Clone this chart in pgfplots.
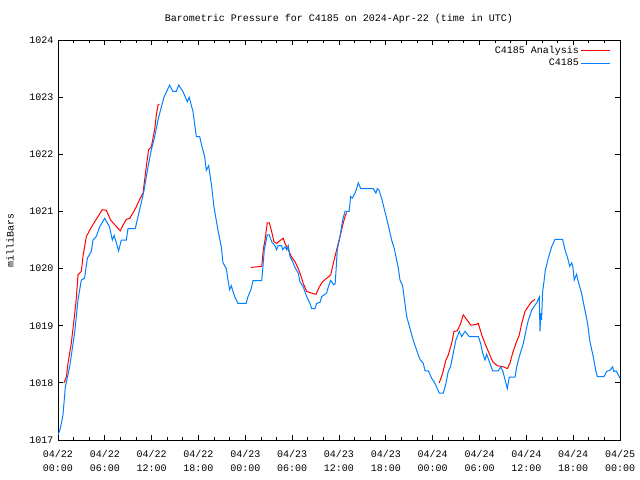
\documentclass[border=0pt]{standalone}
\usepackage{pgfplots}
\pgfplotsset{compat=1.18}
\usepackage{pgfplotstable}
\usepackage{fontspec}
\setmainfont{Liberation Mono}
\definecolor{anared}{RGB}{255,0,0}
\definecolor{obsblue}{RGB}{0,128,255}
\pgfplotstableread{
h p
0.77 1018.0
1.07 1018.1
1.28 1018.34
1.7 1018.69
2.05 1019.1
2.35 1019.48
2.56 1019.89
2.99 1019.95
3.2 1020.21
3.63 1020.56
4.06 1020.67
4.7 1020.82
5.12 1020.91
5.67 1021.03
6.19 1021.02
6.74 1020.85
7.25 1020.77
7.98 1020.66
8.33 1020.76
8.75 1020.86
9.18 1020.88
9.6 1020.97
10.03 1021.08
10.46 1021.21
10.89 1021.32
11.1 1021.55
11.31 1021.78
11.61 1022.08
11.96 1022.13
12.17 1022.28
12.38 1022.43
12.6 1022.69
12.81 1022.86
12.98 1022.88
13.0 nan
24.69 1020.02
25.45 1020.03
26.1 1020.04
26.3 1020.33
26.52 1020.5
26.81 1020.8
27.07 1020.8
27.37 1020.65
27.67 1020.47
28.0 1020.44
28.44 1020.49
28.86 1020.53
29.08 1020.44
29.5 1020.33
29.93 1020.2
30.36 1020.12
30.78 1020.0
31.08 1019.89
31.42 1019.74
31.86 1019.6
32.5 1019.57
33.05 1019.55
33.48 1019.68
33.9 1019.77
34.42 1019.83
34.94 1019.89
35.27 1020.09
35.7 1020.33
36.13 1020.56
36.47 1020.76
36.77 1020.91
36.98 1020.98
37.0 nan
48.85 1018.0
49.28 1018.17
49.7 1018.4
50.0 1018.49
50.43 1018.69
50.73 1018.9
51.15 1018.91
51.59 1019.04
51.92 1019.19
52.35 1019.11
52.87 1019.01
53.55 1019.02
53.85 1019.04
54.28 1018.84
54.7 1018.69
55.13 1018.55
55.69 1018.37
56.28 1018.3
57.05 1018.28
57.56 1018.25
57.9 1018.34
58.24 1018.52
58.67 1018.69
59.1 1018.84
59.41 1019.04
59.83 1019.25
60.26 1019.34
60.69 1019.42
61.11 1019.46
}\analysis
\pgfplotstableread{
h p
0 1017.09
0.3 1017.2
0.64 1017.44
0.94 1017.93
1.49 1018.28
2.13 1018.87
2.56 1019.45
2.99 1019.8
3.4 1019.83
3.76 1020.18
4.27 1020.30
4.48 1020.5
4.9 1020.56
5.34 1020.73
5.98 1020.88
6.6 1020.73
6.96 1020.5
7.2 1020.58
7.77 1020.31
8.11 1020.5
8.75 1020.5
8.97 1020.70
9.9 1020.70
10.46 1021.03
11.0 1021.35
11.53 1021.78
11.96 1022.08
12.39 1022.31
12.81 1022.6
13.24 1022.83
13.58 1023.0
14.3 1023.21
14.72 1023.1
15.15 1023.1
15.46 1023.21
16.0 1023.1
16.57 1022.92
16.8 1023.0
17.29 1022.75
17.72 1022.31
18.15 1022.31
18.45 1022.13
18.79 1021.96
19.0 1021.72
19.3 1021.8
19.64 1021.49
19.98 1021.08
20.5 1020.67
20.92 1020.38
21.14 1020.1
21.56 1020.0
21.78 1019.8
21.99 1019.63
22.2 1019.7
22.63 1019.51
23.06 1019.39
24.1 1019.39
24.34 1019.51
24.76 1019.65
24.98 1019.79
26.1 1019.79
26.22 1019.97
26.43 1020.33
26.81 1020.59
27.07 1020.59
27.37 1020.47
27.8 1020.4
28.0 1020.33
28.22 1020.4
28.65 1020.4
28.79 1020.33
29.08 1020.38
29.3 1020.33
29.5 1020.4
29.72 1020.21
30.06 1020.12
30.36 1020.02
30.78 1019.92
31.0 1019.77
31.42 1019.68
31.86 1019.51
32.28 1019.39
32.5 1019.3
32.93 1019.3
33.14 1019.39
33.57 1019.41
33.78 1019.51
34.42 1019.57
34.63 1019.68
34.94 1019.79
35.3 1019.72
35.5 1019.73
35.6 1019.92
35.78 1020.33
36.13 1020.56
36.47 1020.85
36.77 1021.0
37.3 1021.0
37.49 1021.26
37.7 1021.23
38.05 1021.32
38.26 1021.4
38.47 1021.5
38.78 1021.4
40.4 1021.4
40.73 1021.32
40.9 1021.4
41.1 1021.38
41.46 1021.23
41.88 1021.0
42.31 1020.76
42.74 1020.5
43.08 1020.35
43.38 1020.15
43.59 1020.02
43.81 1019.8
44.15 1019.7
44.33 1019.51
44.67 1019.16
45.1 1018.95
45.5 1018.75
46.0 1018.55
46.37 1018.41
46.8 1018.34
47.02 1018.21
47.45 1018.21
47.87 1018.08
48.3 1017.99
48.59 1017.9
48.85 1017.82
49.36 1017.82
49.7 1017.99
50.0 1018.2
50.3 1018.29
50.64 1018.52
50.98 1018.75
51.41 1018.9
51.72 1018.81
51.9 1018.85
52.14 1018.9
52.69 1018.81
53.85 1018.81
54.15 1018.69
54.41 1018.52
54.7 1018.4
54.92 1018.5
55.34 1018.34
55.69 1018.21
56.4 1018.21
56.71 1018.28
57.0 1018.2
57.39 1017.99
57.56 1017.9
57.82 1018.1
58.55 1018.1
58.77 1018.28
59.1 1018.46
59.41 1018.6
59.62 1018.69
59.96 1018.92
60.26 1019.1
60.69 1019.27
61.11 1019.36
61.33 1019.4
61.66 1019.5
61.75 1018.9
61.85 1019.22
61.95 1019.1
62.09 1019.6
62.26 1019.77
62.43 1019.97
62.81 1020.18
63.24 1020.38
63.67 1020.51
64.65 1020.51
64.95 1020.33
65.3 1020.18
65.56 1020.04
65.81 1020.1
65.95 1020.04
66.14 1019.8
66.43 1019.9
66.6 1019.8
67.07 1019.57
67.51 1019.27
67.85 1019.04
68.15 1018.72
68.57 1018.46
68.92 1018.2
69.09 1018.11
69.95 1018.11
70.3 1018.2
70.7 1018.22
71.05 1018.28
71.2 1018.2
71.5 1018.21
71.9 1018.11
72 1018.08
}\observed
\begin{document}
\begin{tikzpicture}[font=\fontsize{10bp}{12bp}\selectfont]
\useasboundingbox (0,0) rectangle (640bp,480bp);
\node at (339bp,461bp) {Barometric Pressure for C4185 on 2024-Apr-22 (time in UTC)};
\node[rotate=90] at (10bp,240bp) {milliBars};
\begin{axis}[
  at={(58bp,40bp)}, anchor=south west,
  scale only axis, width=562bp, height=400bp,
  xmin=0, xmax=72, ymin=1017, ymax=1024,
  axis line style={line width=0.8bp},
  xtick={0,6,...,72},
  minor xtick={2,4,8,10,14,16,20,22,26,28,32,34,38,40,44,46,50,52,56,58,62,64,68,70},
  ytick={1017,1018,...,1024},
  yticklabels={1017,1018,1019,1020,1021,1022,1023,1024},
  xticklabels={{04/22\\00:00},{04/22\\06:00},{04/22\\12:00},{04/22\\18:00},{04/23\\00:00},{04/23\\06:00},{04/23\\12:00},{04/23\\18:00},{04/24\\00:00},{04/24\\06:00},{04/24\\12:00},{04/24\\18:00},{04/25\\00:00}},
  xticklabel style={align=center, yshift=-7bp, font=\fontsize{10bp}{14bp}\selectfont},
  yticklabel style={font=\fontsize{10bp}{12bp}\selectfont, xshift=-1bp},
  /pgf/number format/assume math mode=true,
  tick align=inside,
  major tick length=5bp, minor tick length=3bp,
  every tick/.style={black, line width=0.8bp},
  unbounded coords=jump,
  legend style={at={(rel axis cs:1,1)}, anchor=north east, xshift=-6bp, yshift=-2bp,
    draw=none, fill=none, font=\fontsize{10bp}{12bp}\selectfont, row sep=0bp,
    /tikz/every even column/.append style={column sep=5bp}},
  legend cell align=right,
  legend plot pos=right,
  legend image code/.code={\draw[#1] (0bp,0bp) -- (29bp,0bp);},
]
\addplot[anared, line width=1bp] table[x=h, y=p] {\analysis};
\addlegendentry{C4185 Analysis}
\addplot[obsblue, line width=1bp] table[x=h, y=p] {\observed};
\addlegendentry{C4185}
\end{axis}
\end{tikzpicture}
\end{document}
